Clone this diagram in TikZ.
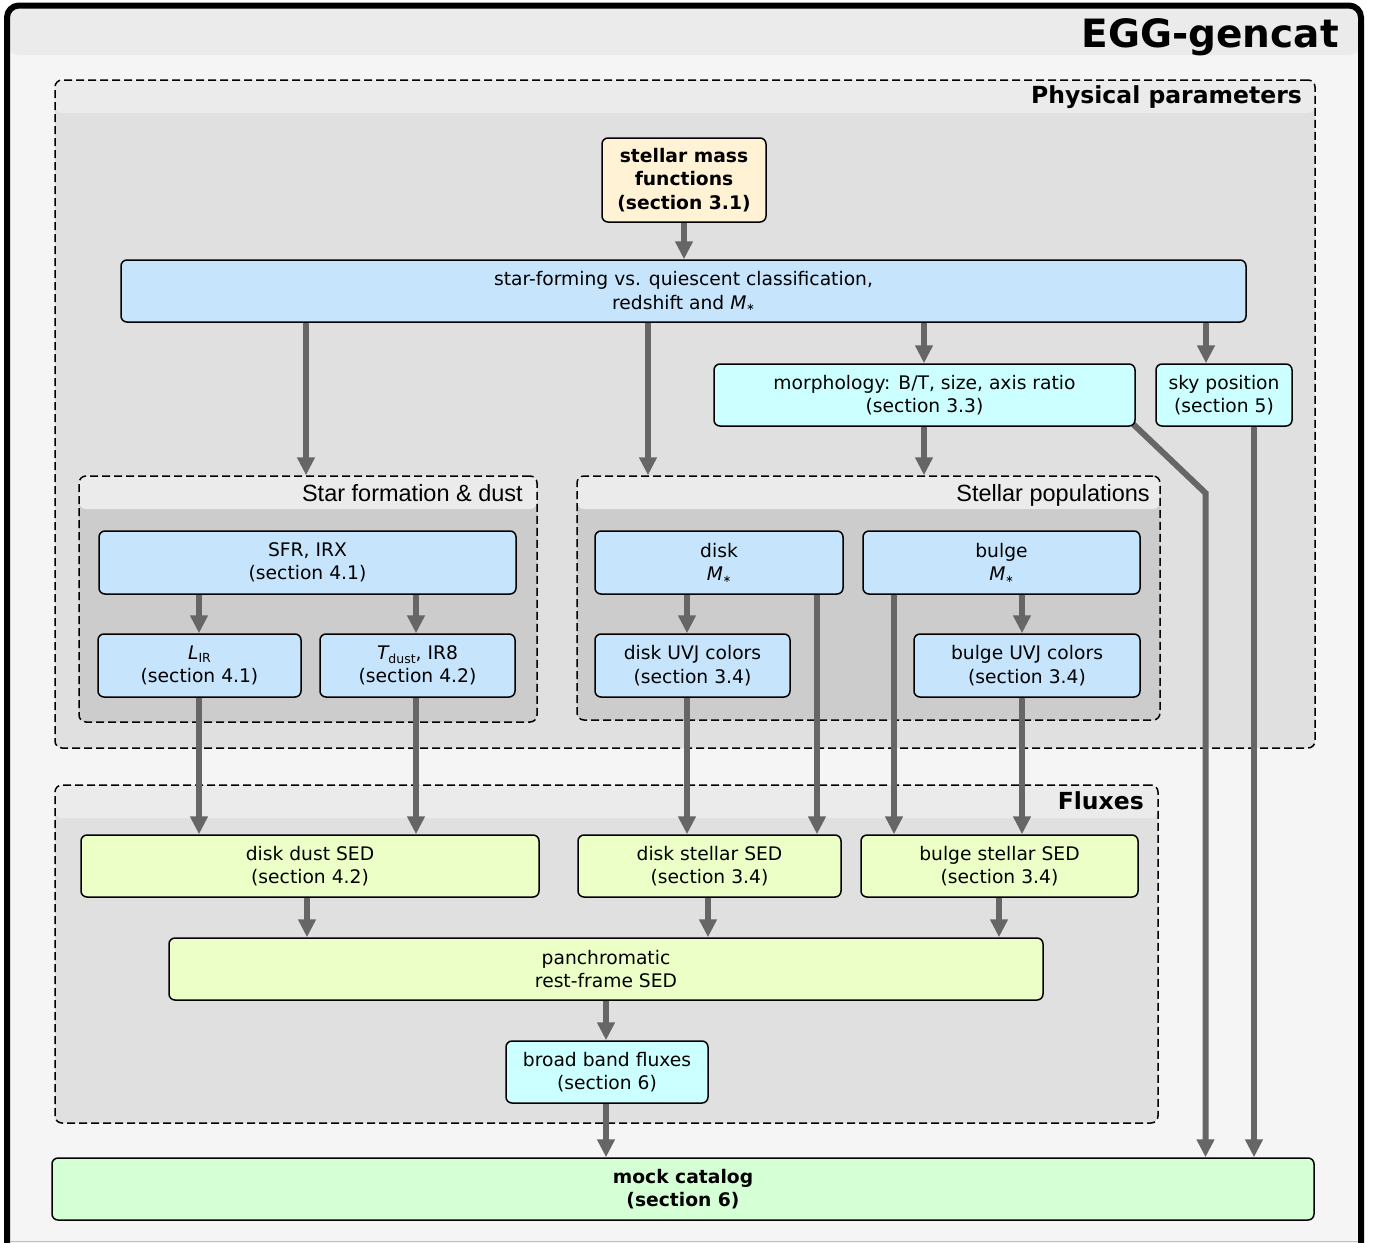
\documentclass[tikz,border=0pt]{standalone}
\usepackage{fontspec}
\setmainfont{DejaVu Sans}[ItalicFont={DejaVu Sans Oblique},BoldFont={DejaVu Sans Bold},BoldItalicFont={DejaVu Sans Bold Oblique}]
\newfontfamily\arialfont{Liberation Sans}
\usetikzlibrary{arrows.meta}
\definecolor{outerbg}{HTML}{F5F5F5}
\definecolor{hdr}{HTML}{EBEBEB}
\definecolor{physbg}{HTML}{E0E0E0}
\definecolor{subbg}{HTML}{CCCCCC}
\definecolor{bluefill}{HTML}{C6E5FC}
\definecolor{cyanfill}{HTML}{CCFFFF}
\definecolor{creamfill}{HTML}{FFF2D5}
\definecolor{ygfill}{HTML}{EBFFC6}
\definecolor{mockfill}{HTML}{D5FFD5}
\definecolor{conngray}{HTML}{666666}
\newcommand\nf{\fontsize{18.7}{23.5}\selectfont}
\newcommand\lsub[1]{\raisebox{-0.35ex}{\fontsize{12.5}{12.5}\selectfont #1}}
\newcommand\Mst{{\itshape M}\raisebox{-0.15ex}{\fontsize{10}{10}\selectfont ∗}}
\pgfdeclarelayer{bg}
\pgfdeclarelayer{mid}
\pgfsetlayers{bg,mid,main}
\tikzset{
  box/.style={draw=black, line width=1.5pt, rounded corners=6pt, inner sep=0pt, align=center, font=\nf, text=black},
  bluebox/.style={box, fill=bluefill},
  cyanbox/.style={box, fill=cyanfill},
  ygbox/.style={box, fill=ygfill},
  cont/.style={draw=black, line width=1.5pt, dash pattern=on 8pt off 4pt, rounded corners=7pt, inner sep=0pt, fill=#1,
    path picture={\fill[hdr] (path picture bounding box.north west) rectangle ([yshift=-33pt]path picture bounding box.north east);}},
  conn/.style={draw=conngray, line width=6pt, -{Triangle[length=18pt,width=17pt]}},
  boldlab/.style={anchor=base east, inner sep=0pt, font=\fontsize{23.5}{23.5}\selectfont\bfseries},
  sublab/.style={anchor=base east, inner sep=0pt, font=\fontsize{23.5}{23.5}\selectfont\arialfont},
}
\begin{document}
\begin{tikzpicture}[x=1pt,y=-1pt]
\useasboundingbox (0,0) rectangle (1377,1243);
\clip (0,0) rectangle (1377,1243);
\begin{pgfonlayer}{bg}
\node[draw=black, line width=6pt, rounded corners=12pt, fill=outerbg, minimum width=1354pt, minimum height=1254pt, inner sep=0pt,
  path picture={\fill[hdr] (path picture bounding box.north west) rectangle ([yshift=-49.5pt]path picture bounding box.north east);}] (frame) at (684,632.5) {};
\draw[black!25, line width=1pt] (10,1241) -- (1358,1241);
\node[anchor=base east, inner sep=0pt, font=\fontsize{39}{39}\selectfont\bfseries] (title) at (1339,47) {EGG-gencat};
% containers
\node[cont=physbg, minimum width=1260pt, minimum height=668pt] (phys) at (685,414) {};
\node[boldlab] (physlab) at (1302,103) {Physical parameters};
\node[cont=subbg, minimum width=458pt, minimum height=246pt] (sfd) at (308,599) {};
\node[sublab] (sfdlab) at (523,501) {Star formation \& dust};
\node[cont=subbg, minimum width=583pt, minimum height=244pt] (stp) at (868.5,598) {};
\node[sublab] (stplab) at (1150,501) {Stellar populations};
\node[cont=physbg, minimum width=1103pt, minimum height=338pt] (flux) at (606.5,954) {};
\node[boldlab] (fluxlab) at (1144,809) {Fluxes};
\end{pgfonlayer}
% boxes
\node[box, fill=creamfill, minimum width=164pt, minimum height=84pt, font=\nf\bfseries] (smf) at (684,180) {stellar mass\\functions\\(section 3.1)};
\node[bluebox, minimum width=1125pt, minimum height=62pt] (cls) at (683.5,291) {star-forming vs. quiescent classification,\\redshift and \Mst};
\node[cyanbox, minimum width=421pt, minimum height=62pt] (morph) at (924.5,395) {morphology: B/T, size, axis ratio\\(section 3.3)};
\node[cyanbox, minimum width=136pt, minimum height=62pt] (sky) at (1224,395) {sky position\\(section 5)};
\node[bluebox, minimum width=417pt, minimum height=63pt] (sfr) at (307.5,562.5) {SFR, IRX\\(section 4.1)};
\node[bluebox, minimum width=203pt, minimum height=63pt] (lir) at (199.5,665.5) {{\itshape L}\lsub{IR}\\(section 4.1)};
\node[bluebox, minimum width=195pt, minimum height=63pt] (tdust) at (417.5,665.5) {{\itshape T}\lsub{dust}, IR8\\(section 4.2)};
\node[bluebox, minimum width=248pt, minimum height=63pt] (disk) at (719,562.5) {disk\\\Mst};
\node[bluebox, minimum width=277pt, minimum height=63pt] (bulge) at (1001.5,562.5) {bulge\\\Mst};
\node[bluebox, minimum width=195pt, minimum height=63pt] (duvj) at (692.5,665.5) {disk UVJ colors\\(section 3.4)};
\node[bluebox, minimum width=226pt, minimum height=63pt] (buvj) at (1027,665.5) {bulge UVJ colors\\(section 3.4)};
\node[ygbox, minimum width=458pt, minimum height=62pt] (dsed) at (310,866) {disk dust SED\\(section 4.2)};
\node[ygbox, minimum width=263pt, minimum height=62pt] (dssed) at (709.5,866) {disk stellar SED\\(section 3.4)};
\node[ygbox, minimum width=277pt, minimum height=62pt] (bssed) at (999.5,866) {bulge stellar SED\\(section 3.4)};
\node[ygbox, minimum width=874pt, minimum height=62pt] (pan) at (606,969) {panchromatic\\rest-frame SED};
\node[cyanbox, minimum width=202pt, minimum height=62pt] (bbf) at (607,1072) {broad band fluxes\\(section 6)};
\node[box, fill=mockfill, minimum width=1262pt, minimum height=62pt, font=\nf\bfseries] (mock) at (683,1189) {mock catalog\\(section 6)};
% x positions
\coordinate (x684) at (684,0);
\coordinate (x306) at (306,0);
\coordinate (x648) at (648,0);
\coordinate (x924) at (924,0);
\coordinate (x1206) at (1206,0);
\coordinate (x1254) at (1254,0);
\coordinate (x199) at (199,0);
\coordinate (x416) at (416,0);
\coordinate (x687) at (687,0);
\coordinate (x817) at (817,0);
\coordinate (x894) at (894,0);
\coordinate (x1022) at (1022,0);
\coordinate (x307) at (307,0);
\coordinate (x708) at (708,0);
\coordinate (x999) at (999,0);
\coordinate (x606) at (606,0);
\coordinate (bend) at (1205.5,493);
\begin{pgfonlayer}{mid}
\draw[conn] (smf.south -| x684) -- (cls.north -| x684);
\draw[conn] (cls.south -| x306) -- (sfd.north -| x306);
\draw[conn] (cls.south -| x648) -- (stp.north -| x648);
\draw[conn] (cls.south -| x924) -- (morph.north -| x924);
\draw[conn] (cls.south -| x1206) -- (sky.north -| x1206);
\draw[conn] (morph.south -| x924) -- (stp.north -| x924);
\draw[conn] ([xshift=-3pt,yshift=3pt]morph.south east) -- (bend) -- (mock.north -| bend);
\draw[conn] (sky.south -| x1254) -- (mock.north -| x1254);
\draw[conn] (sfr.south -| x199) -- (lir.north -| x199);
\draw[conn] (sfr.south -| x416) -- (tdust.north -| x416);
\draw[conn] (lir.south -| x199) -- (dsed.north -| x199);
\draw[conn] (tdust.south -| x416) -- (dsed.north -| x416);
\draw[conn] (disk.south -| x687) -- (duvj.north -| x687);
\draw[conn] (disk.south -| x817) -- (dssed.north -| x817);
\draw[conn] (bulge.south -| x1022) -- (buvj.north -| x1022);
\draw[conn] (bulge.south -| x894) -- (bssed.north -| x894);
\draw[conn] (duvj.south -| x687) -- (dssed.north -| x687);
\draw[conn] (buvj.south -| x1022) -- (bssed.north -| x1022);
\draw[conn] (dsed.south -| x307) -- (pan.north -| x307);
\draw[conn] (dssed.south -| x708) -- (pan.north -| x708);
\draw[conn] (bssed.south -| x999) -- (pan.north -| x999);
\draw[conn] (pan.south -| x606) -- (bbf.north -| x606);
\draw[conn] (bbf.south -| x606) -- (mock.north -| x606);
\end{pgfonlayer}
\end{tikzpicture}
\end{document}
